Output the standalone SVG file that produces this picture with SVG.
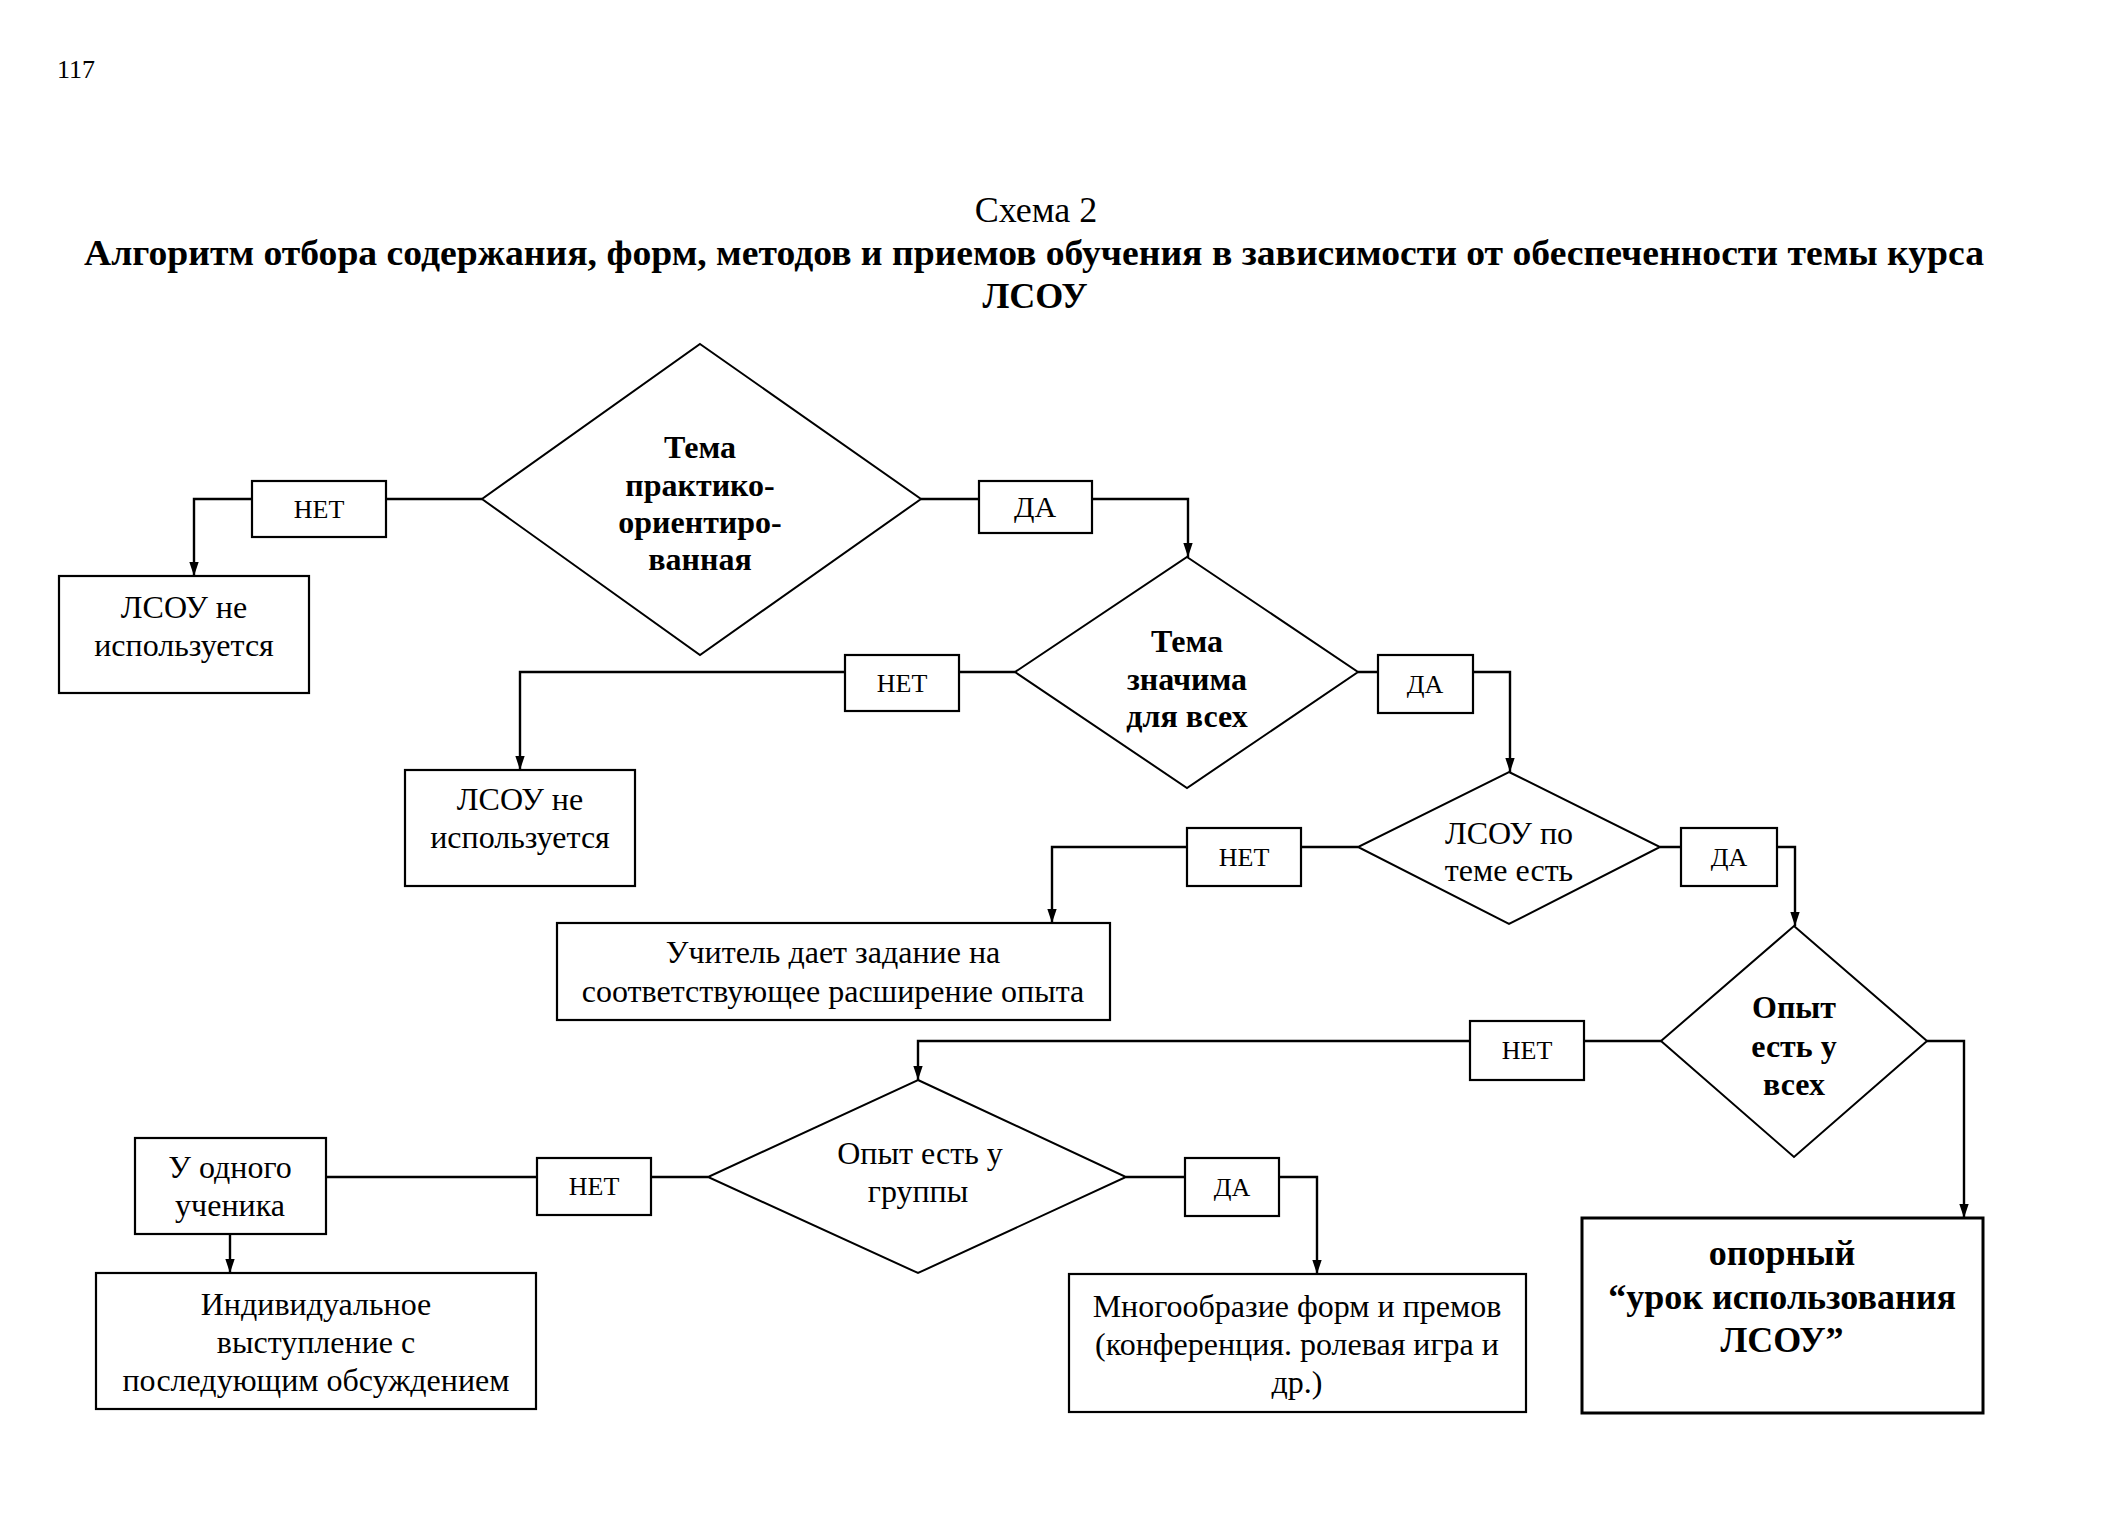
<svg xmlns="http://www.w3.org/2000/svg" width="2116" height="1534" viewBox="0 0 2116 1534">
<style>
text{font-family:"Liberation Serif","DejaVu Serif",serif;fill:#000;text-anchor:middle}
.r{font-size:32px}
.b{font-size:32px;font-weight:bold}
.lb{font-size:26px}
.box{fill:#fff;stroke:#000;stroke-width:2.2}
.dia{fill:#fff;stroke:#000;stroke-width:2}
.con{fill:none;stroke:#000;stroke-width:2.4}
</style>
<defs>
<marker id="arr" markerUnits="userSpaceOnUse" markerWidth="14" markerHeight="20" refX="18" refY="6" orient="auto" viewBox="0 0 18 12">
<path d="M0,0 L18,6 L0,12 z" fill="#000"/>
</marker>
</defs>
<rect width="2116" height="1534" fill="#fff"/>
<text x="57" y="78" style="text-anchor:start;font-size:26px">117</text>
<text x="1036" y="222" style="font-size:36px">Схема 2</text>
<text x="1034" y="265" style="font-size:36px;font-weight:bold" textLength="1900" lengthAdjust="spacingAndGlyphs">Алгоритм отбора содержания, форм, методов и приемов  обучения в зависимости от обеспеченности  темы курса</text>
<text x="1035" y="308" style="font-size:36px;font-weight:bold">ЛСОУ</text>

<g id="connectors">
<polyline class="con" points="482,499 194,499 194,576" marker-end="url(#arr)"/>
<polyline class="con" points="921,499 1188,499 1188,557" marker-end="url(#arr)"/>
<polyline class="con" points="1015,672 520,672 520,770" marker-end="url(#arr)"/>
<polyline class="con" points="1358,672 1510,672 1510,772" marker-end="url(#arr)"/>
<polyline class="con" points="1358,847 1052,847 1052,923" marker-end="url(#arr)"/>
<polyline class="con" points="1660,847 1795,847 1795,926" marker-end="url(#arr)"/>
<polyline class="con" points="1661,1041 918,1041 918,1080" marker-end="url(#arr)"/>
<polyline class="con" points="1927,1041 1964,1041 1964,1218" marker-end="url(#arr)"/>
<polyline class="con" points="708,1177 326,1177"/>
<polyline class="con" points="230,1234 230,1273" marker-end="url(#arr)"/>
<polyline class="con" points="1126,1177 1317,1177 1317,1274" marker-end="url(#arr)"/>
<g id="lbl-net1"><rect class="box" x="252" y="481" width="134" height="56"/><text class="lb" x="319" y="518">НЕТ</text></g>
<g id="lbl-da1"><rect class="box" x="979" y="481" width="113" height="52"/><text x="1035" y="517" style="font-size:30px">ДА</text></g>
<g id="lbl-net2"><rect class="box" x="845" y="655" width="114" height="56"/><text class="lb" x="902" y="692">НЕТ</text></g>
<g id="lbl-da2"><rect class="box" x="1378" y="655" width="95" height="58"/><text class="lb" x="1425" y="693">ДА</text></g>
<g id="lbl-net3"><rect class="box" x="1187" y="828" width="114" height="58"/><text class="lb" x="1244" y="866">НЕТ</text></g>
<g id="lbl-da3"><rect class="box" x="1681" y="828" width="96" height="58"/><text class="lb" x="1729" y="866">ДА</text></g>
<g id="lbl-net4"><rect class="box" x="1470" y="1021" width="114" height="59"/><text class="lb" x="1527" y="1059">НЕТ</text></g>
<g id="lbl-net5"><rect class="box" x="537" y="1158" width="114" height="57"/><text class="lb" x="594" y="1195">НЕТ</text></g>
<g id="lbl-da5"><rect class="box" x="1185" y="1158" width="94" height="58"/><text class="lb" x="1232" y="1196">ДА</text></g>
</g>

<g id="d1">
<polygon class="dia" points="700,344 921,499 700,655 482,499"/>
<text class="b" x="700" y="458">Тема</text>
<text class="b" x="700" y="496">практико-</text>
<text class="b" x="700" y="533">ориентиро-</text>
<text class="b" x="700" y="570">ванная</text>
</g>
<g id="n-lsou1">
<rect class="box" x="59" y="576" width="250" height="117"/>
<text class="r" x="184" y="618">ЛСОУ не</text>
<text class="r" x="184" y="656">используется</text>
</g>
<g id="d2">
<polygon class="dia" points="1187,557 1358,672 1187,788 1015,672"/>
<text class="b" x="1187" y="652">Тема</text>
<text class="b" x="1187" y="690">значима</text>
<text class="b" x="1187" y="727">для всех</text>
</g>
<g id="n-lsou2">
<rect class="box" x="405" y="770" width="230" height="116"/>
<text class="r" x="520" y="810">ЛСОУ не</text>
<text class="r" x="520" y="848">используется</text>
</g>
<g id="d3">
<polygon class="dia" points="1509,772 1660,847 1509,924 1358,847"/>
<text class="r" x="1509" y="844">ЛСОУ по</text>
<text class="r" x="1509" y="881">теме есть</text>
</g>
<g id="n-teacher">
<rect class="box" x="557" y="923" width="553" height="97"/>
<text class="r" x="833" y="963">Учитель дает задание на</text>
<text class="r" x="833" y="1002">соответствующее расширение опыта</text>
</g>
<g id="d4">
<polygon class="dia" points="1794,926 1927,1041 1794,1157 1661,1041"/>
<text class="b" x="1794" y="1018">Опыт</text>
<text class="b" x="1794" y="1057">есть у</text>
<text class="b" x="1794" y="1095">всех</text>
</g>
<g id="d5">
<polygon class="dia" points="918,1080 1126,1177 918,1273 708,1177"/>
<text class="r" x="920" y="1164">Опыт есть у</text>
<text class="r" x="918" y="1202">группы</text>
</g>
<g id="n-one">
<rect class="box" x="135" y="1138" width="191" height="96"/>
<text class="r" x="230" y="1178">У одного</text>
<text class="r" x="230" y="1216">ученика</text>
</g>
<g id="n-indiv">
<rect class="box" x="96" y="1273" width="440" height="136"/>
<text class="r" x="316" y="1315">Индивидуальное</text>
<text class="r" x="316" y="1353">выступление с</text>
<text class="r" x="316" y="1391">последующим обсуждением</text>
</g>
<g id="n-forms">
<rect class="box" x="1069" y="1274" width="457" height="138"/>
<text class="r" x="1297" y="1317">Многообразие форм и премов</text>
<text class="r" x="1297" y="1355">(конференция. ролевая игра и</text>
<text class="r" x="1297" y="1393">др.)</text>
</g>
<g id="n-lesson">
<rect class="box" x="1582" y="1218" width="401" height="195" style="stroke-width:3"/>
<text x="1782" y="1265" style="font-size:36px;font-weight:bold">опорный</text>
<text x="1782" y="1309" style="font-size:36px;font-weight:bold">“урок использования</text>
<text x="1782" y="1352" style="font-size:36px;font-weight:bold">ЛСОУ”</text>
</g>
</svg>
